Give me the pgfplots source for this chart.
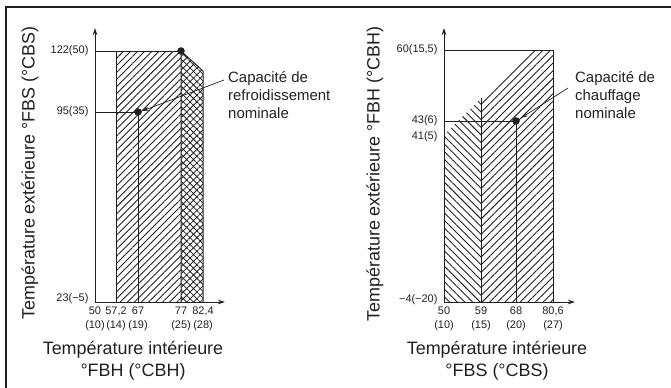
\documentclass[border=0pt]{standalone}
\usepackage{pgfplots}
\pgfplotsset{compat=1.18}
\usepackage{fontspec}
\setmainfont{Liberation Sans}
\usetikzlibrary{patterns.meta,arrows.meta}
\definecolor{ink}{HTML}{231F20}
\pgfplotsset{
  env/.style={
    x=1bp, y=1bp, enlargelimits=false, clip=false,
    axis lines*=left,
    axis line style={ink, line width=1bp, -{Stealth[length=7bp,width=4.5bp]}},
    major tick length=0pt, minor tick num=0,
    tick label style={font=\fontsize{11}{14.5}\selectfont, text=ink},
    xticklabel style={align=center, anchor=north, yshift=-1bp},
    yticklabel style={anchor=east, xshift=-3bp},
  },
  edge/.style={ink, line width=1bp, no marks},
  hatchA/.style={draw=none, no marks, pattern={Lines[angle=45,distance=5bp,line width=0.9bp]}, pattern color=ink},
  hatchB/.style={draw=none, no marks, pattern={Lines[angle=-45,distance=5.4bp,line width=0.9bp]}, pattern color=ink},
  hatchC/.style={draw=none, no marks, pattern={Lines[angle=45,distance=5.4bp,line width=0.9bp]}, pattern color=ink},
  cross/.style={draw=none, no marks, pattern={Hatch[angle=45,distance=4.8bp,line width=0.8bp]}, pattern color=ink},
}
\begin{document}
\begin{tikzpicture}[x=1bp,y=1bp]
\path[use as bounding box] (0,0) rectangle (671,387);
\draw[ink, line width=1.3bp] (6,-2) -- (6,380) -- (673,380);

% ---------- left chart ----------
\begin{axis}[env, at={(95,85)}, anchor=south west,
  xmin=0, xmax=130, ymin=0, ymax=274,
  xtick={0,21,43,86,108},
  xticklabels={{50\\(10)},{57,2\\(14)},{67\\(19)},{77\\(25)},{82,4\\(28)}},
  ytick={3,190,251},
  yticklabels={{23(−5)},{95(35)},{122(50)}},
]
\addplot[hatchA] coordinates {(21,0) (86,0) (86,251) (21,251)} -- cycle;
\addplot[cross] coordinates {(86,0) (108,0) (108,231) (86,251)} -- cycle;
\addplot[edge] coordinates {(0,251) (86,251)};
\addplot[edge] coordinates {(0,190) (43,190)};
\addplot[edge] coordinates {(21,0) (21,251)};
\addplot[edge] coordinates {(43,0) (43,190)};
\addplot[edge] coordinates {(86,0) (86,251) (108,231) (108,0)};
\addplot[only marks, mark=*, mark size=3.5bp, ink] coordinates {(86,251) (43,190)};
\draw[ink, line width=0.7bp, -{Stealth[length=7bp,width=4bp]}] (129,222) -- (47,191);
\end{axis}

% ---------- right chart ----------
\begin{axis}[env, at={(444,85)}, anchor=south west,
  xmin=0, xmax=131, ymin=0, ymax=274,
  xtick={0,37,72,109},
  xticklabels={{50\\(10)},{59\\(15)},{68\\(20)},{80,6\\(27)}},
  ytick={2,165,181,252},
  yticklabels={{−4(−20)},{41(5)},{43(6)},{60(15,5)}},
]
\addplot[hatchB] coordinates {(0,0) (37,0) (37,203.6) (0,167)} -- cycle;
\addplot[hatchC] coordinates {(37,0) (109,0) (109,252) (86,252) (37,203.6)} -- cycle;
\addplot[edge] coordinates {(0,252) (109,252)};
\addplot[edge] coordinates {(0,181) (72,181)};
\addplot[edge] coordinates {(37,0) (37,203.6)};
\addplot[edge] coordinates {(72,0) (72,181)};
\addplot[edge] coordinates {(109,0) (109,252)};
\addplot[only marks, mark=*, mark size=3.5bp, ink] coordinates {(72,181)};
\draw[ink, line width=0.7bp, -{Stealth[length=7bp,width=4bp]}] (124,214) -- (77,184);
\end{axis}

% ---------- texts ----------
\node[ink, rotate=90, font=\fontsize{18}{22}\selectfont] at (30,214) {Température extérieure °FBS (°CBS)};
\node[ink, align=center, font=\fontsize{18}{22}\selectfont] at (133,26) {Température intérieure\\°FBH (°CBH)};
\node[ink, anchor=north west, inner sep=0pt, align=left, font=\fontsize{15}{18}\selectfont] at (228,316) {Capacité de\\refroidissement\\nominale};

\node[ink, rotate=90, font=\fontsize{18}{22}\selectfont] at (375,213) {Température extérieure °FBH (°CBH)};
\node[ink, align=center, font=\fontsize{18}{22}\selectfont] at (497,26) {Température intérieure\\°FBS (°CBS)};
\node[ink, anchor=north west, inner sep=0pt, align=left, font=\fontsize{15}{18}\selectfont] at (575,316) {Capacité de\\chauffage\\nominale};
\end{tikzpicture}
\end{document}
